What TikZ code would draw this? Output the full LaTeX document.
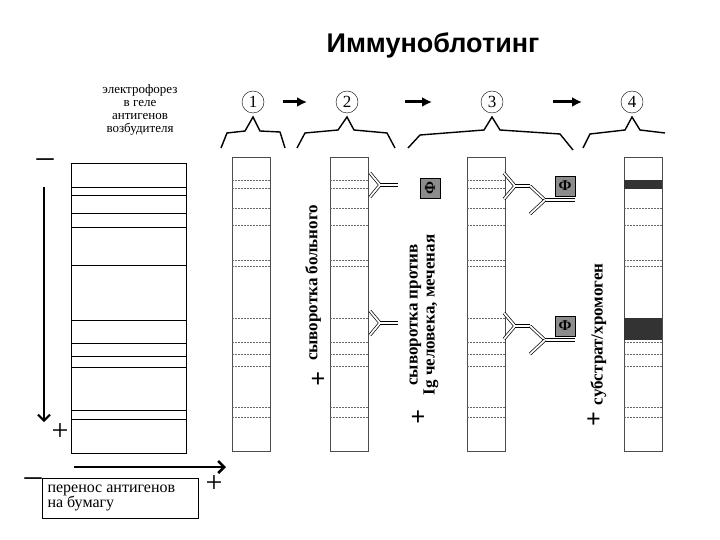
\documentclass[tikz,border=0pt]{standalone}
\usepackage{fontspec}
\setmainfont{Liberation Serif}
\newfontfamily\sansf{Liberation Sans}
\usetikzlibrary{arrows.meta}
\begin{document}
\begin{tikzpicture}[x=1pt,y=-1pt,
  gel/.style={draw,line width=0.8pt},
  strip/.style={draw=black!70,line width=0.6pt},
  band/.style={draw=black!60,dashed,dash pattern=on 2pt off 1pt,line width=0.5pt},
  thick arrow/.style={line width=3pt,-{Latex[length=10pt,width=10pt]}},
  brace/.style={line width=1.4pt},
  ab/.style={double=white,double distance=1.8pt,line width=0.7pt},
  fbox/.style={draw,fill=black!45,minimum size=20pt,inner sep=0pt,font=\bfseries\fontsize{15}{15}\selectfont},
  vlab/.style={rotate=90,font=\bfseries\fontsize{17}{17}\selectfont,align=center},
  plus/.style={font=\bfseries\fontsize{26}{26}\selectfont}]
\useasboundingbox (0,0) rectangle (720,540);
\node[font=\sansf\bfseries\fontsize{27}{29}\selectfont] (title) at (433,45) {Иммуноблотинг};
% gel
\node[align=center,font=\fontsize{13}{13}\selectfont,inner sep=0pt] (gt) at (140,110) {электрофорез\\в геле\\антигенов\\возбудителя};
\node[gel,minimum width=115pt,minimum height=290pt,inner sep=0pt,anchor=north west] (gel) at (71,163) {};
\foreach \y in {187,195,213,227,265,320,343,356,367,410,419} \draw[gel] (71,\y) -- (186,\y);
\coordinate (va) at (44,187); \coordinate (vb) at (44,422);
\draw[line width=2pt,-{Straight Barb[length=6pt]}] (va) -- (vb);
\node[font=\fontsize{34}{34}\selectfont] (gm) at (45,163) {–};
\node[font=\fontsize{30}{30}\selectfont] (gp) at (60,432) {+};
\coordinate (ha) at (74,467); \coordinate (hb) at (226,467);
\draw[line width=2.5pt,-{Straight Barb[length=6pt]}] (ha) -- (hb);
\node[draw,line width=0.8pt,minimum width=156pt,minimum height=40pt,anchor=north west,inner sep=0pt] (tb) at (42,478) {};
\node[anchor=north west,align=left,font=\fontsize{16}{14}\selectfont] (tt) at (44,481) {перенос антигенов\\на бумагу};
\node[font=\fontsize{34}{34}\selectfont] (tm) at (33,482) {–};
\node[font=\fontsize{30}{30}\selectfont] (tp) at (214,484) {+};
% strips
\foreach \n/\x in {s1/232,s2/330,s3/467,s4/624}{
  \node[strip,minimum width=38pt,minimum height=294pt,inner sep=0pt,anchor=north west] (\n) at (\x,157) {};
  \foreach \y in {180,188,208,225,260,266,318,342,354,366,407,417} \draw[band] (\x,\y) -- (\x+38,\y);
}
\fill[black!80] (624,180) rectangle (662,189);
\fill[black!80] (624,318) rectangle (662,340);
% numbers
\foreach \n/\x/\t in {c1/253/1,c2/347/2,c3/492/3,c4/632/4}
  \node[draw,circle,inner sep=1pt,minimum size=22pt,font=\fontsize{17}{17}\selectfont] (\n) at (\x,102) {\t};
\foreach \a/\b in {283/307,405/432,553/582}
  \draw[thick arrow] (\a,102) -- (\b,102);
% braces
\draw[brace] (221,148) -- (227,133) -- (245,131) -- (253,117) -- (260,131) -- (280,132) -- (285,148);
\draw[brace] (297,148) -- (305,133) -- (338,130) -- (347,117) -- (354,130) -- (387,133) -- (395,148);
\draw[brace] (408,148) -- (420,135) -- (484,130) -- (492,117) -- (500,130) -- (560,134) -- (573,150);
\draw[brace] (583,148) -- (590,134) -- (625,130) -- (632,117) -- (640,130) -- (665,133);
% labels
\node[vlab] (l2) at (313,283) {сыворотка больного};
\node[plus] (p2) at (318,380) {+};
\node[vlab,align=center] (l3) at (424,315) {сыворотка против\\Ig человека, меченая};
\node[plus] (p3) at (418,418) {+};
\node[vlab] (l4) at (597,345) {\fontsize{26}{26}\selectfont+ \fontsize{17}{17}\selectfont субстрат/хромоген};
% antibodies strip 2
\foreach \y in {185,323}{
  \draw[ab] (370,\y-12) -- (380,\y) -- (370,\y+12);
  \draw[ab] (380,\y) -- (398,\y);
}
% strip 3 complexes
\foreach \y in {186,326}{
  \draw[ab] (504,\y-13) -- (515,\y) -- (504,\y+13);
  \draw[ab] (515,\y) -- (530,\y);
  \draw[ab] (530,\y) -- (545,\y+14);
  \draw[ab] (545,\y+14) -- (575,\y+14);
  \draw[ab] (545,\y+14) -- (530,\y+28);
  \node[fbox] (f\y) at (565,\y) {Ф};
}
\node[fbox,rotate=90] (f0) at (430,188) {Ф};
\end{tikzpicture}
\end{document}
